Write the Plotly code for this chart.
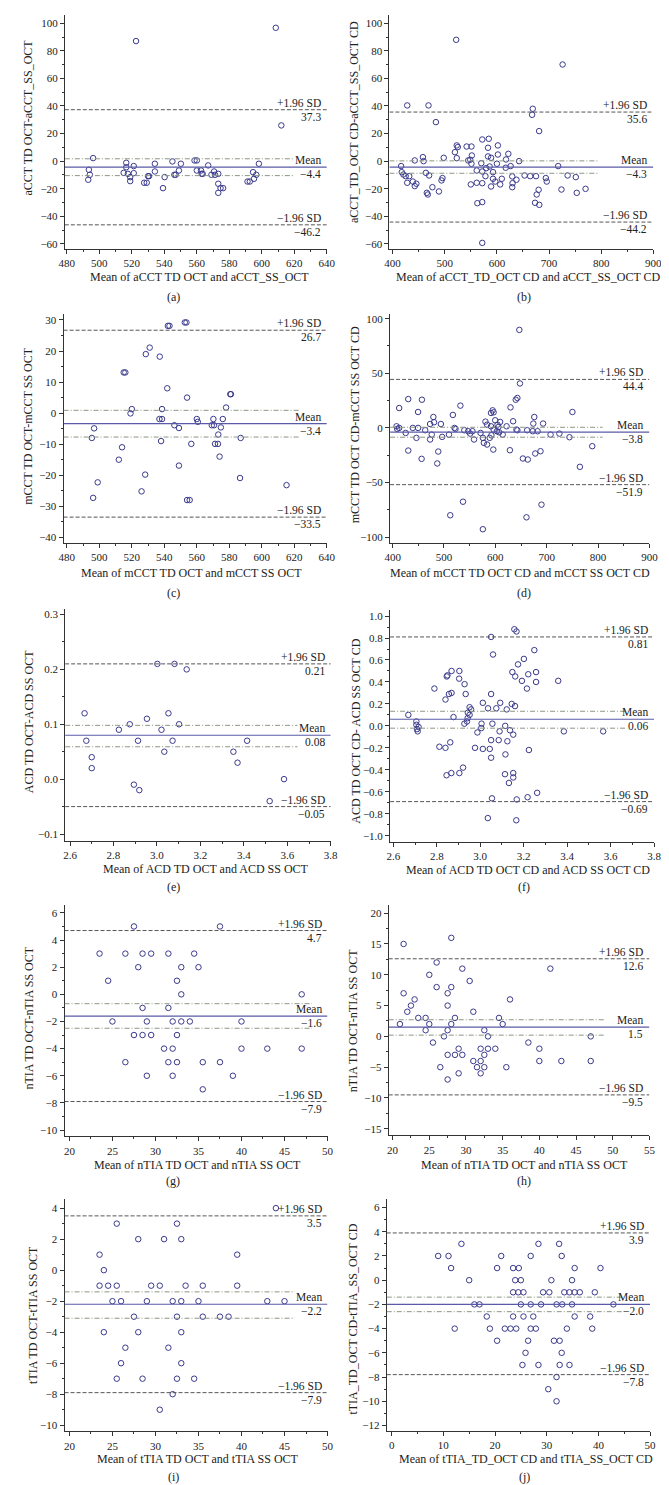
import plotly.graph_objects as go

W, H = 669, 1485
FONT = "Liberation Serif"
PT = "#3a3a8c"
MEANC = "#5a5aa8"
DASHC = "#555555"
DDC = "#8c9683"
AXC = "#333333"
TXT = "#222222"
TICK_FS = 11
TITLE_FS = 12
LBL_FS = 11.5

# ---------------- data ----------------
a_x = [608.6, 522.6, 612.0, 496.2, 493.6, 494.2, 493.2, 516.6, 516.6, 515.0, 517.6, 519.0, 519.0, 521.2, 521.2,
       527.6, 529.2, 530.0, 530.6, 534.2, 534.2, 539.2, 540.2, 545.0, 546.2, 547.0, 549.0, 550.2, 558.6, 560.0,
       560.0, 562.6, 563.6, 563.0, 567.0, 569.0, 570.6, 571.2, 573.2, 573.2, 573.2, 574.6, 576.2, 591.2, 592.6,
       594.6, 595.2, 596.6, 598.2]
a_y = [96.7, 87.1, 25.9, 2.2, -6.3, -9.9, -13.5, -1.2, -4.4, -8.5, -9.2, -11.6, -14.5, -3.6, -8.7,
       -15.7, -15.7, -10.9, -10.9, -1.9, -7.5, -19.6, -11.6, -0.2, -9.9, -9.9, -6.8, -1.9, 0.5, 0.5,
       -6.8, -6.8, -9.2, -9.2, -3.1, -9.9, -7.5, -9.9, -9.2, -16.4, -23.0, -19.6, -19.6, -14.8, -14.8,
       -8.0, -12.8, -9.9, -1.9]

b_x = [521.9, 726.0, 428.0, 468.8, 483.0, 668.8, 667.5, 681.0, 523.0, 525.0, 519.5, 523.0, 541.9, 551.2, 551.9,
       548.8, 545.0, 551.2, 458.1, 459.4, 442.5, 498.0, 416.3, 417.5, 420.6, 425.0, 431.9, 428.0, 438.8, 442.5,
       445.6, 463.8, 470.0, 465.6, 467.5, 476.3, 488.8, 493.8, 495.6, 550.0, 561.3, 562.5, 561.3, 570.0, 571.9,
       571.9, 571.9, 571.9, 571.9, 584.4, 583.0, 583.0, 579.4, 578.0, 586.0, 588.8, 588.8, 592.5, 592.5, 596.9,
       600.0, 601.9, 601.9, 606.3, 609.4, 617.5, 616.9, 621.9, 626.3, 629.4, 630.0, 629.4, 637.5, 642.5, 653.1,
       663.8, 675.0, 673.1, 676.3, 680.0, 681.3, 693.8, 695.6, 717.5, 723.8, 735.6, 751.3, 753.1, 770.0]
b_y = [88.0, 70.1, 40.4, 40.4, 28.3, 38.0, 33.6, 21.8, 11.4, 10.2, 6.5, 2.2, 10.6, 10.6, 4.1,
       1.0, 0.5, -1.9, 2.9, 0.0, 0.5, 2.4, -3.6, -8.0, -9.7, -10.9, -10.9, -15.7, -14.8, -18.1,
       -16.4, -8.5, -10.4, -23.0, -24.2, -18.9, -22.0, -14.0, -12.3, -16.9, -6.8, -30.5, -15.7, -1.5, -7.5,
       -16.0, -29.7, -59.3, 15.7, 16.2, 9.7, 3.4, -5.1, -10.9, -3.9, 2.4, -18.4, -8.0, -12.8, -14.8,
       -1.9, 4.8, 11.4, -16.9, -12.8, 1.2, -4.8, 5.3, -3.6, -11.1, -16.0, -18.9, -13.5, 0.0, -10.4,
       -10.9, -10.9, -30.2, -24.2, -20.8, -31.7, -12.3, -14.8, -3.6, -20.6, -10.4, -11.6, -23.0, -20.1]

c_x = [542.2, 543.2, 552.6, 553.6, 531.0, 528.6, 537.2, 515.0, 516.0, 541.8, 554.0, 580.6, 581.0, 578.0, 520.0,
       519.2, 538.6, 537.0, 538.6, 560.0, 560.6, 570.2, 576.0, 569.2, 570.6, 546.2, 549.0, 574.8, 573.2, 571.2,
       573.0, 496.8, 495.4, 587.0, 538.0, 556.6, 574.0, 514.0, 512.0, 549.0, 528.2, 499.0, 526.0, 496.2, 554.0,
       555.6, 586.6, 615.2]
c_y = [28.1, 28.1, 29.2, 29.2, 21.1, 19.0, 18.2, 13.1, 13.1, 8.0, 5.0, 6.1, 6.1, 1.8, 1.3,
       -0.1, 1.3, -1.9, -1.9, -1.9, -2.8, -1.9, -1.9, -3.9, -3.9, -3.9, -4.8, -4.6, -6.9, -9.9,
       -9.9, -4.9, -8.0, -8.0, -9.0, -9.9, -14.0, -11.0, -15.0, -16.9, -19.8, -22.3, -25.2, -27.3, -28.0,
       -28.0, -20.9, -23.2]

d_x = [646.7, 647.9, 642.9, 639.7, 629.5, 634.6, 641.0, 591.5, 594.7, 596.6, 531.9, 517.3, 430.4, 457.0, 412.7,
       449.5, 479.3, 480.6, 493.9, 472.9, 407.6, 408.9, 412.7, 425.4, 439.3, 446.3, 449.5, 463.4, 476.1, 472.9,
       496.4, 509.7, 520.5, 522.4, 539.5, 547.1, 550.9, 555.4, 558.5, 571.2, 575.7, 577.6, 583.9, 580.7, 583.9,
       589.0, 592.2, 591.5, 596.6, 596.0, 599.7, 602.9, 604.2, 606.1, 607.4, 609.3, 614.3, 621.9, 628.3, 642.9,
       653.6, 663.2, 661.9, 672.7, 673.9, 675.8, 677.7, 682.2, 687.9, 693.0, 707.5, 724.7, 744.3, 750.0, 764.6,
       788.7, 512.2, 537.0, 575.7, 660.6, 689.8, 456.4, 430.4, 486.9, 488.8]
d_y = [89.7, 40.7, 27.4, 25.8, 18.8, 6.1, -1.5, 13.7, 16.1, 14.3, 20.4, 11.9, 26.4, 25.8, 18.2,
       14.6, 10.0, 5.2, 3.6, 3.6, 1.5, -0.9, 0.0, -4.6, 0.0, -9.1, 0.0, -2.1, -6.1, -10.6,
       -8.2, -6.1, 0.0, -0.9, -2.1, -3.0, -5.2, -3.0, -10.6, -4.6, -9.1, -13.7, -15.2, 5.8, 3.0,
       -9.1, -6.7, 1.5, -1.5, -19.8, 7.0, -3.0, 3.0, 0.9, -4.0, 5.5, -6.1, 1.5, -20.4, -2.1,
       -28.0, -28.9, -2.1, -3.0, 4.0, 10.0, -23.4, -3.0, -21.3, 4.0, -6.1, -5.2, -8.5, 14.6, -35.6,
       -16.7, -79.9, -67.5, -92.7, -81.8, -70.2, -28.3, -20.7, -32.5, -21.6]

e_x = [3.002, 3.081, 3.137, 2.667, 3.053, 2.875, 2.954, 3.102, 2.825, 3.021, 2.675, 2.913, 3.072, 3.415, 2.700,
       2.700, 3.034, 3.352, 3.371, 2.894, 2.919, 3.519, 3.585]
e_y = [0.21, 0.21, 0.20, 0.12, 0.12, 0.10, 0.11, 0.10, 0.09, 0.09, 0.07, 0.07, 0.07, 0.07, 0.04,
       0.02, 0.05, 0.05, 0.03, -0.01, -0.02, -0.04, 0.00]

f_x = [3.157, 3.167, 3.050, 3.249, 3.059, 3.201, 3.174, 2.789, 2.846, 2.849, 2.868, 2.904, 2.903, 2.928, 2.933,
       2.868, 2.856, 2.840, 3.148, 3.161, 3.192, 3.221, 3.257, 3.257, 3.215, 3.359, 3.050, 3.012, 3.092, 3.036,
       3.074, 3.122, 3.145, 3.160, 2.951, 2.958, 2.943, 2.951, 2.942, 2.877, 2.669, 2.927, 2.939, 2.706, 2.706,
       2.709, 2.712, 2.716, 3.006, 3.005, 3.056, 3.115, 2.987, 3.089, 3.137, 3.152, 3.385, 3.566, 3.050, 3.085,
       3.125, 2.812, 2.840, 2.862, 2.976, 3.012, 3.044, 3.224, 3.116, 3.050, 2.921, 2.845, 2.867, 2.904, 3.114,
       3.152, 3.152, 3.132, 3.054, 3.168, 3.218, 3.262, 3.035, 3.166]
f_y = [0.88, 0.86, 0.81, 0.69, 0.65, 0.61, 0.56, 0.34, 0.45, 0.46, 0.50, 0.50, 0.43, 0.38, 0.29,
       0.30, 0.29, 0.24, 0.49, 0.45, 0.41, 0.47, 0.49, 0.40, 0.34, 0.41, 0.29, 0.21, 0.21, 0.16,
       0.16, 0.15, 0.20, 0.18, 0.17, 0.15, 0.12, 0.10, 0.07, 0.08, 0.10, 0.02, 0.04, 0.04, 0.01,
       -0.03, -0.05, -0.01, 0.02, -0.02, 0.02, 0.00, -0.06, -0.05, -0.04, -0.08, -0.05, -0.05, -0.13, -0.13,
       -0.14, -0.19, -0.20, -0.15, -0.20, -0.21, -0.21, -0.22, -0.26, -0.29, -0.38, -0.45, -0.43, -0.43, -0.44,
       -0.43, -0.47, -0.52, -0.66, -0.67, -0.65, -0.61, -0.84, -0.86]

g_x = [27.5, 37.5, 23.5, 26.5, 28.5, 29.5, 31.5, 34.5, 28, 33, 35, 24.5, 32.5, 33, 47, 28.5, 31.5, 25, 29, 32,
       33, 34, 40, 27.5, 28.5, 29.5, 32.5, 31, 32, 40, 43, 47, 26.5, 31.5, 32.5, 35.5, 37.5, 29, 32, 39, 35.5]
g_y = [5, 5, 3, 3, 3, 3, 3, 3, 2, 2, 2, 1, 1, 0, 0, -1, -1, -2, -2, -2,
       -2, -2, -2, -3, -3, -3, -3, -4, -4, -4, -4, -4, -5, -5, -5, -5, -5, -6, -6, -6, -7]

h_x = [21.5, 28, 26, 29.5, 41.5, 25, 30.5, 21.5, 26, 28, 27.5, 23, 36, 22.5, 27.5, 22, 31, 23.5, 24.5, 28.5,
       34.5, 21, 25, 28, 35, 24.5, 27.5, 32.5, 27, 33, 47, 25.5, 38.5, 29, 32, 33, 34, 40, 27.5, 28.5,
       29.5, 32.5, 31, 32, 40, 43, 47, 26.5, 31.5, 32.5, 35.5, 29, 32, 27.5]
h_y = [15, 16, 12, 11, 11, 10, 9, 7, 8, 8, 7, 6, 6, 5, 5, 4, 4, 3, 3, 3,
       3, 2, 2, 2, 2, 1, 1, 1, 0, 0, 0, -1, -1, -2, -2, -2, -2, -2, -3, -3,
       -3, -3, -4, -4, -4, -4, -4, -5, -5, -5, -5, -6, -6, -7]

i_x = [44, 25.5, 32.5, 28, 31, 33, 23.5, 39.5, 24, 23.5, 24.5, 25.5, 29.5, 30.5, 33.5, 35.5, 39.5, 25, 26, 29,
       32, 33, 35, 43, 45, 27.5, 32.5, 35.5, 37.5, 38.5, 24, 28, 33, 26.5, 31.5, 26, 33, 25.5, 28.5, 32.5,
       34.5, 32, 30.5]
i_y = [4, 3, 3, 2, 2, 2, 1, 1, 0, -1, -1, -1, -1, -1, -1, -1, -1, -2, -2, -2,
       -2, -2, -2, -2, -2, -3, -3, -3, -3, -3, -4, -4, -4, -5, -5, -6, -6, -7, -7, -7,
       -7, -8, -9]

j_x = [9, 11, 11.5, 13.5, 15, 16, 17, 12.2, 18.4, 19, 20.4, 21.2, 20.4, 21.9, 23, 24.1, 23.5, 24.6, 23.9, 25,
       23.5, 24.5, 25.5, 23.5, 25, 25.5, 26.9, 26.9, 27.4, 26.9, 27.9, 26.4, 25.9, 25.3, 28.4, 28.4, 28.9, 29.3,
       30.5, 30.9, 30.3, 31.4, 31.9, 31.9, 31.9, 32.4, 32.5, 32.5, 32.9, 32.9, 33, 33.4, 33.9, 34.4, 34.4, 34.9,
       34.9, 35.4, 35.4, 35.4, 36.4, 38.4, 39.3, 38.8, 40.4, 42.9]
j_y = [2, 2, 1, 3, 0, -2, -2, -4, -3, -4, 1, 2, -5, -4, -4, -4, 1, 1, 0, 0,
       -1, -1, -1, -3, -2, -3, -2, 2, -3, -4, -4, -5, -6, -7, -7, 3, -2, -1,
       -1, 0, -9, -5, -2, -8, -10, 3, -5, -7, 2, -6, -2, -1, -4, -1, -7, 0,
       -2, 1, -1, -3, -1, -3, -1, -4, 1, -2]

# Bland-Altman statistics: upper LoA, mean, lower LoA, mean-CI upper, mean-CI lower
a_stats = [37.3, -4.4, -46.2, 1.7, -10.5]
b_stats = [35.6, -4.3, -44.2, 0.2, -8.8]
c_stats = [26.7, -3.4, -33.5, 0.9, -7.7]
d_stats = [44.4, -3.8, -51.9, 0.6, -8.5]
e_stats = [0.21, 0.08, -0.05, 0.098, 0.059]
f_stats = [0.81, 0.06, -0.69, 0.133, -0.021]
g_stats = [4.7, -1.6, -7.9, -0.69, -2.5]
h_stats = [12.6, 1.5, -9.5, 2.7, 0.2]
i_stats = [3.5, -2.2, -7.9, -1.4, -3.1]
j_stats = [3.9, -2.0, -7.8, -1.4, -2.6]

letters = ["(a)", "(b)", "(c)", "(d)", "(e)", "(f)", "(g)", "(h)", "(i)", "(j)"]
x_titles = ["Mean of aCCT TD OCT and aCCT_SS_OCT",
            "Mean of aCCT_TD_OCT CD and aCCT_SS_OCT CD",
            "Mean of mCCT TD OCT and mCCT SS OCT",
            "Mean of mCCT TD OCT CD and mCCT SS OCT CD",
            "Mean of ACD TD OCT and ACD SS OCT",
            "Mean of ACD TD OCT CD and ACD SS OCT CD",
            "Mean of nTIA TD OCT and nTIA SS OCT",
            "Mean of nTIA TD OCT and nTIA SS OCT",
            "Mean of tTIA TD OCT and tTIA SS OCT",
            "Mean of tTIA_TD_OCT CD and tTIA_SS_OCT CD"]
y_titles = ["aCCT TD OCT-aCCT_SS_OCT",
            "aCCT_TD_OCT CD-aCCT_SS_OCT CD",
            "mCCT TD OCT-mCCT SS OCT",
            "mCCT TD OCT CD-mCCT SS OCT CD",
            "ACD TD OCT-ACD SS OCT",
            "ACD TD OCT CD- ACD SS OCT CD",
            "nTIA TD OCT-nTIA SS OCT",
            "nTIA TD OCT-nTIA SS OCT",
            "tTIA TD OCT-tTIA SS OCT",
            "tTIA_TD_OCT CD-tTIA_SS_OCT CD"]

# ---------------- layout configuration (pixels / ranges / ticks) ----------------
cfg = [
    dict(x=a_x, y=a_y, s=a_stats, px=[52, 320], py=[5, 239.3], xr=[478.8, 640], yr=[-63.6, 106],
         xd=20, xm=10, yd=20, ym=10, ddend=620, dec=1, fmt="", yfmt="",
         lab=(163, 288), xt=(190, 268), yt=(14, 108)),
    dict(x=b_x, y=b_y, s=b_stats, px=[384, 654], py=[5, 239.3], xr=[393.8, 900], yr=[-63.6, 106],
         xd=100, xm=50, yd=20, ym=10, ddend=794, dec=1, fmt="", yfmt="",
         lab=(522, 288), xt=(526, 268), yt=(348, 112)),
    dict(x=c_x, y=c_y, s=c_stats, px=[50.7, 320], py=[305, 534.3], xr=[478, 640], yr=[-41.9, 31.8],
         xd=20, xm=10, yd=10, ym=5, ddend=623.6, dec=1, fmt="", yfmt="",
         lab=(163, 584), xt=(182, 564), yt=(14, 417)),
    dict(x=d_x, y=d_y, s=d_stats, px=[384.7, 650], py=[305, 534.3], xr=[395, 900], yr=[-105.5, 103.9],
         xd=100, xm=50, yd=50, ym=25, ddend=809, dec=1, fmt="", yfmt="",
         lab=(522, 584), xt=(518, 564), yt=(349, 416)),
    dict(x=e_x, y=e_y, s=e_stats, px=[52.3, 324], py=[600, 832.3], xr=[2.5775, 3.8], yr=[-0.112, 0.3104],
         xd=0.2, xm=0.1, yd=0.1, ym=0.05, ddend=3.647, dec=2, fmt=".1f", yfmt=".1f",
         lab=(163, 879), xt=(196, 861), yt=(15, 713)),
    dict(x=f_x, y=f_y, s=f_stats, px=[384.7, 654.7], py=[601.7, 833.7], xr=[2.585, 3.8], yr=[-1.058, 1.051],
         xd=0.2, xm=0.1, yd=0.2, ym=0.1, ddend=3.677, dec=2, fmt=".1f", yfmt=".1f",
         lab=(522, 879), xt=(526, 861.5), yt=(349, 723)),
    dict(x=g_x, y=g_y, s=g_stats, px=[51.7, 320.7], py=[896.7, 1128.7], xr=[19.43, 50], yr=[-10.47, 6.59],
         xd=5, xm=2.5, yd=2, ym=1, ddend=48.2, dec=1, fmt="", yfmt="",
         lab=(163, 1173), xt=(188, 1157), yt=(15, 1010)),
    dict(x=h_x, y=h_y, s=h_stats, px=[383.3, 650], py=[896.7, 1127.7], xr=[19.47, 55], yr=[-16.08, 21.35],
         xd=5, xm=2.5, yd=5, ym=2.5, ddend=48.9, dec=1, fmt="", yfmt="",
         lab=(522, 1173), xt=(522, 1157), yt=(347, 1013)),
    dict(x=i_x, y=i_y, s=i_stats, px=[51.7, 320.7], py=[1191.7, 1424.3], xr=[19.43, 50], yr=[-10.4, 4.57],
         xd=5, xm=2.5, yd=2, ym=1, ddend=46.2, dec=1, fmt="", yfmt="",
         lab=(163, 1470), xt=(188, 1452), yt=(20, 1308)),
    dict(x=j_x, y=j_y, s=j_stats, px=[381.3, 650.7], py=[1191.7, 1423.7], xr=[-0.946, 50], yr=[-12.44, 6.68],
         xd=10, xm=5, yd=2, ym=1, ddend=45.0, dec=1, fmt="", yfmt="",
         lab=(522, 1470), xt=(524, 1452), yt=(347, 1312)),
]


def fmtv(v, dec):
    s = f"{abs(v):.{dec}f}"
    return ("\u2212" + s) if v < 0 else s


fig = go.Figure()
layout = dict(width=W, height=H, margin=dict(l=0, r=0, t=0, b=0),
              paper_bgcolor="white", plot_bgcolor="white", showlegend=False,
              font=dict(family=FONT, size=TICK_FS, color=TXT))
shapes = []
annos = []

for k, p in enumerate(cfg, start=1):
    sfx = "" if k == 1 else str(k)
    xa, ya = "x" + sfx, "y" + sfx
    fig.add_trace(go.Scatter(x=p["x"], y=p["y"], mode="markers", xaxis=xa, yaxis=ya,
                             marker=dict(symbol="circle-open", size=5.5, color=PT, line=dict(width=1, color=PT)),
                             hoverinfo="skip"))
    axcommon = dict(showline=True, linecolor=AXC, linewidth=1, ticks="outside", ticklen=4, tickwidth=1,
                    tickcolor=AXC, showgrid=False, zeroline=False, tick0=0,
                    tickfont=dict(family=FONT, size=TICK_FS, color=TXT))
    layout["xaxis" + sfx] = dict(domain=[p["px"][0] / W, p["px"][1] / W], range=p["xr"], anchor=ya,
                                 dtick=p["xd"], tickformat=p["fmt"],
                                 minor=dict(dtick=p["xm"], tick0=0, ticks="outside", ticklen=2, tickcolor=AXC),
                                 **axcommon)
    layout["yaxis" + sfx] = dict(domain=[1 - p["py"][1] / H, 1 - p["py"][0] / H], range=p["yr"], anchor=xa,
                                 dtick=p["yd"], tickformat=p["yfmt"],
                                 minor=dict(dtick=p["ym"], tick0=0, ticks="outside", ticklen=2, tickcolor=AXC),
                                 **axcommon)
    up, mn, lo, chi, clo = p["s"]
    x0, x1 = p["xr"]
    shapes += [
        dict(type="line", xref=xa, yref=ya, x0=x0, x1=x1, y0=up, y1=up, line=dict(color=DASHC, width=1, dash="4px,2px")),
        dict(type="line", xref=xa, yref=ya, x0=x0, x1=x1, y0=lo, y1=lo, line=dict(color=DASHC, width=1, dash="4px,2px")),
        dict(type="line", xref=xa, yref=ya, x0=x0, x1=p["ddend"], y0=chi, y1=chi, line=dict(color=DDC, width=1, dash="5px,2px,1px,2px")),
        dict(type="line", xref=xa, yref=ya, x0=x0, x1=p["ddend"], y0=clo, y1=clo, line=dict(color=DDC, width=1, dash="5px,2px,1px,2px")),
        dict(type="line", xref=xa, yref=ya, x0=x0, x1=x1, y0=mn, y1=mn, line=dict(color=MEANC, width=1.2)),
    ]
    for txt, yv, anc in [("+1.96 SD", up, "bottom"), (fmtv(up, p["dec"]), up, "top"),
                         ("Mean", mn, "bottom"), (fmtv(mn, p["dec"]), mn, "top"),
                         ("\u22121.96 SD", lo, "bottom"), (fmtv(lo, p["dec"]), lo, "top")]:
        annos.append(dict(xref=xa + " domain", yref=ya, x=1, y=yv, xanchor="right", yanchor=anc,
                          xshift=-5, text=txt, showarrow=False, borderpad=0,
                          font=dict(family=FONT, size=LBL_FS, color=TXT)))
    annos.append(dict(xref="paper", yref="paper", x=p["lab"][0] / W, y=1 - p["lab"][1] / H, text=letters[k - 1],
                      showarrow=False, xanchor="center", yanchor="middle", font=dict(family=FONT, size=TITLE_FS, color=TXT)))
    annos.append(dict(xref="paper", yref="paper", x=p["xt"][0] / W, y=1 - p["xt"][1] / H, text=x_titles[k - 1],
                      showarrow=False, xanchor="center", yanchor="middle", font=dict(family=FONT, size=TITLE_FS, color=TXT)))
    annos.append(dict(xref="paper", yref="paper", x=p["yt"][0] / W, y=1 - p["yt"][1] / H, text=y_titles[k - 1],
                      showarrow=False, xanchor="center", yanchor="middle", textangle=-90,
                      font=dict(family=FONT, size=TITLE_FS, color=TXT)))

layout["shapes"] = shapes
layout["annotations"] = annos
fig.update_layout(**layout)
fig.write_html("out.html")
